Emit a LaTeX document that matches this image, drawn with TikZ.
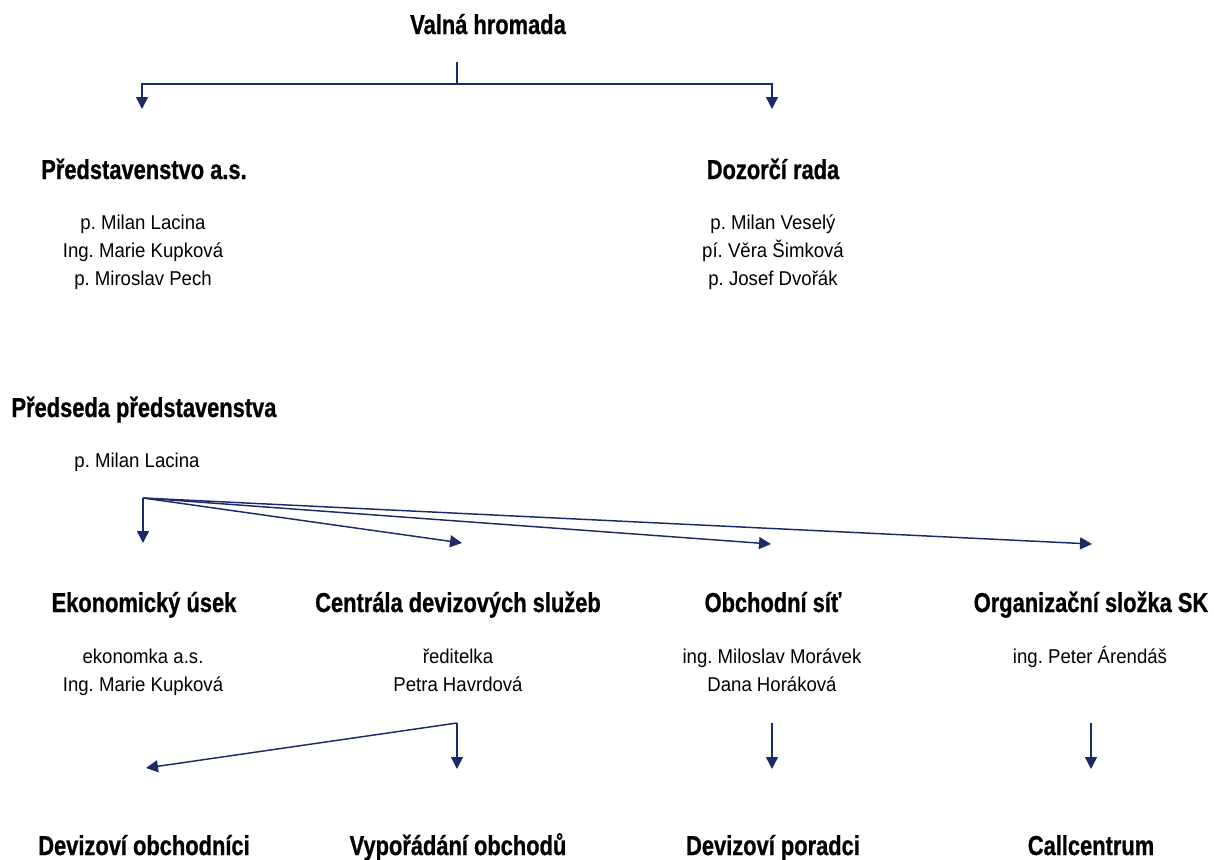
\documentclass[tikz,border=0pt]{standalone}
\usepackage{fontspec}
\setmainfont{Liberation Sans}[FakeStretch=0.93]
\newfontfamily\hdfont{Liberation Sans Bold}[FakeStretch=0.80,FakeBold=0.8]
\usetikzlibrary{arrows.meta}
\definecolor{navy}{HTML}{1B2A68}
\frenchspacing
\tikzset{
  hd/.style={font=\hdfont\fontsize{20.5pt}{24pt}\selectfont, inner sep=0pt, anchor=base},
  nm/.style={font=\fontsize{15pt}{21pt}\selectfont, inner sep=0pt, align=center, anchor=base},
  conn/.style={draw=navy, line width=1.1pt, -{Triangle[width=9pt,length=9pt]}},
  plain/.style={draw=navy, line width=1.1pt},
}
\begin{document}
\begin{tikzpicture}[x=0.75pt,y=-0.75pt]
\useasboundingbox (0,0) rectangle (1214,860);
% headings (anchor base)
\node[hd] (vh) at (488,34) {Valná hromada};
\node[hd] (pr) at (144,179) {Představenstvo a.s.};
\node[nm] (prn) at (143,285.5) {p. Milan Lacina\\Ing. Marie Kupková\\p. Miroslav Pech};
\node[hd] (dr) at (773,179) {Dozorčí rada};
\node[nm] (drn) at (773,285.5) {p. Milan Veselý\\pí. Věra Šimková\\p. Josef Dvořák};
\node[hd] (ps) at (144,417) {Předseda představenstva};
\node[nm] (psn) at (137,467.5) {p. Milan Lacina};
\node[hd] (eu) at (144,612) {Ekonomický úsek};
\node[nm] (eun) at (143,691.5) {ekonomka a.s.\\Ing. Marie Kupková};
\node[hd] (cd) at (458,612) {Centrála devizových služeb};
\node[nm] (cdn) at (458,691.5) {ředitelka\\Petra Havrdová};
\node[hd] (os) at (773,612) {Obchodní síť};
\node[nm] (osn) at (772,691.5) {ing. Miloslav Morávek\\Dana Horáková};
\node[hd] (oz) at (1091,612) {Organizační složka SK};
\node[nm] (ozn) at (1090,663.5) {ing. Peter Árendáš};
\node[hd] (do) at (144,855) {Devizoví obchodníci};
\node[hd] (vo) at (458,855) {Vypořádání obchodů};
\node[hd] (dp) at (773,855) {Devizoví poradci};
\node[hd] (cc) at (1091,855) {Callcentrum};
% connector coordinates
\coordinate (a0) at (457,62);
\coordinate (a1) at (457,84);
\coordinate (a2) at (142,84);
\coordinate (a3) at (772,84);
\coordinate (a2e) at (142,109);
\coordinate (a3e) at (772,109);
\coordinate (b0) at (143,498);
\coordinate (b1) at (143,543);
\coordinate (b2) at (462,543);
\coordinate (b3) at (771,544);
\coordinate (b4) at (1092,544);
\coordinate (c0) at (457,723);
\coordinate (c1) at (457,769);
\coordinate (c2) at (146,768);
\coordinate (d0) at (772,723);
\coordinate (d1) at (772,769);
\coordinate (e0) at (1091,723);
\coordinate (e1) at (1091,769);
% connectors
\draw[plain] (a0) -- (a1);
\draw[conn] (a1) -- (a2) -- (a2e);
\draw[conn] (a1) -- (a3) -- (a3e);
\draw[conn] (b0) -- (b1);
\draw[conn] (b0) -- (b2);
\draw[conn] (b0) -- (b3);
\draw[conn] (b0) -- (b4);
\draw[conn] (c0) -- (c1);
\draw[conn] (c0) -- (c2);
\draw[conn] (d0) -- (d1);
\draw[conn] (e0) -- (e1);
\end{tikzpicture}
\end{document}
